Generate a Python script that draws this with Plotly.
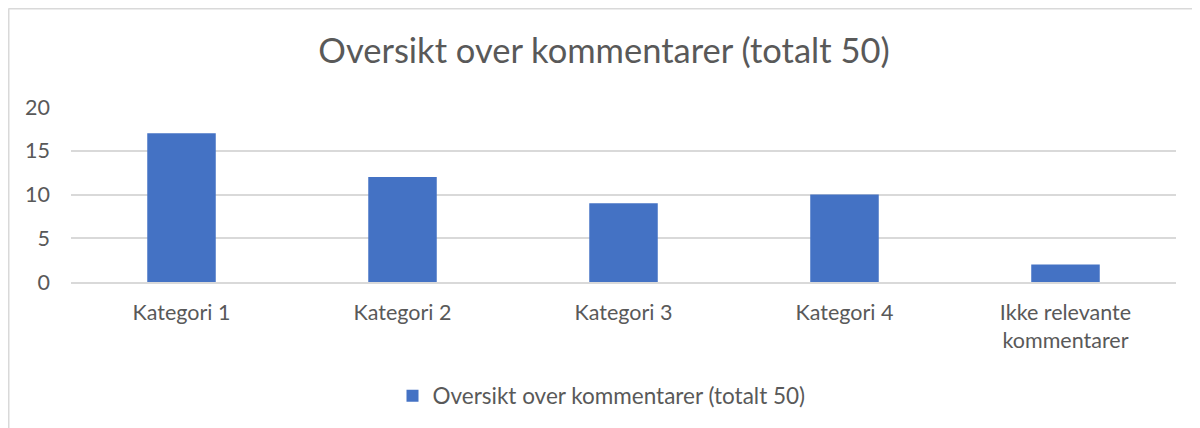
import plotly.graph_objects as go

categories = ["Kategori 1", "Kategori 2", "Kategori 3", "Kategori 4", "Ikke relevante<br>kommentarer"]
values = [17, 12, 9, 10, 2]
series_name = "Oversikt over kommentarer (totalt 50)"
title_text = "Oversikt over kommentarer (totalt 50)"
y_ticks = [0, 5, 10, 15, 20]

FONT = "Lato"
TXT = "#595959"
GRID = "#D9D9D9"

# page has an 8px body margin, so the figure is 1192x420 and offset by 8px
OFF = 8
W, H = 1200 - OFF, 428 - OFF
L, R, T, B = 71 - OFF, 24, 107 - OFF, 146
pw, ph = W - L - R, H - T - B

def px_x(x):
    return (x - OFF - L) / pw

def px_y(y):
    return (H - B - (y - OFF)) / ph

fig = go.Figure()
fig.add_trace(go.Bar(
    x=categories, y=values, name=series_name,
    marker=dict(color="#4472C4", line=dict(width=0)),
    showlegend=True,
))

fig.update_layout(
    width=W, height=H,
    margin=dict(l=L, r=R, t=T, b=B, autoexpand=False),
    paper_bgcolor="white", plot_bgcolor="white",
    bargap=0.69,
    title=dict(text=title_text, x=(604 - OFF) / W, xanchor="center", xref="container",
               y=1 - (51 - OFF) / H, yanchor="middle", yref="container",
               font=dict(family=FONT, size=34.5, color=TXT)),
    font=dict(family=FONT, color=TXT, size=22),
    legend=dict(orientation="h", x=0.5 - 22 / pw, xanchor="center", y=px_y(396), yanchor="middle",
                font=dict(family=FONT, size=22.5, color=TXT), itemwidth=30,
                bgcolor="rgba(0,0,0,0)"),
    xaxis=dict(showgrid=False, showline=True, linecolor=GRID, linewidth=2,
               ticks="", ticklabelstandoff=10, tickfont=dict(size=21.5, color=TXT), fixedrange=True),
    yaxis=dict(range=[0, 20], tickvals=y_ticks, showgrid=True, gridcolor=GRID, gridwidth=1.5,
               zeroline=False, showline=False, ticks="", ticklabelstandoff=20,
               tickfont=dict(size=21.5, color=TXT), fixedrange=True),
    shapes=[
        dict(type="line", xref="paper", yref="paper", x0=px_x(8.5), x1=px_x(8.5), y0=px_y(440), y1=px_y(8.5),
             line=dict(color=GRID, width=2)),
        dict(type="line", xref="paper", yref="paper", x0=px_x(8.5), x1=px_x(1210), y0=px_y(8.5), y1=px_y(8.5),
             line=dict(color=GRID, width=2)),
    ],
)

fig.write_html("out.html")
